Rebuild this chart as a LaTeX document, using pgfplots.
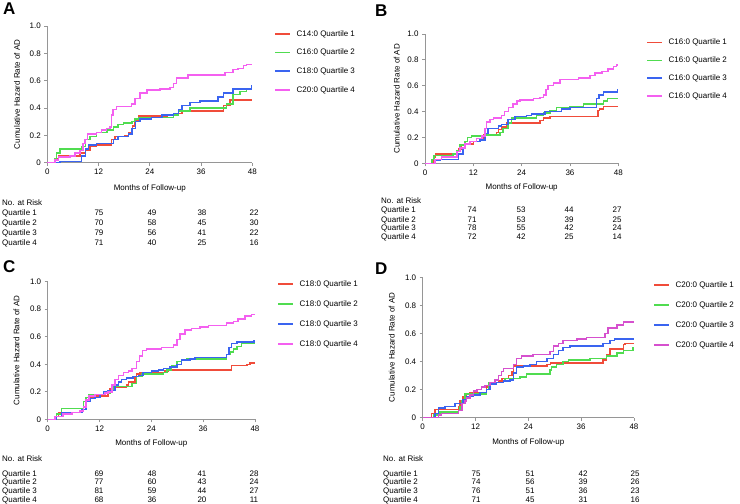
\documentclass[border=0pt]{standalone}
\usepackage{pgfplots}
\pgfplotsset{compat=1.18}
\usepackage{fontspec}
\setmainfont{Liberation Sans}
\definecolor{kmred}{RGB}{240,76,58}
\definecolor{kmgreen}{RGB}{80,220,80}
\definecolor{kmblue}{RGB}{58,100,240}
\definecolor{kmmag}{RGB}{244,96,240}
\definecolor{kmpurp}{RGB}{214,80,206}
\definecolor{axisgray}{RGB}{150,150,150}
\pgfplotsset{
 km/.style={
  scale only axis, anchor=south west,
  xmin=0,xmax=48,ymin=0,ymax=1,
  axis x line*=bottom, axis y line*=left,
  axis line style={draw=axisgray, line width=0.9pt},
  xtick={0,12,24,36,48}, ytick={0,0.2,0.4,0.6,0.8,1}, yticklabels={0,0.2,0.4,0.6,0.8,1.0},
  tick align=outside, major tick length=3pt,
  tick style={draw=axisgray, line width=0.9pt},
  tick label style={font=\fontsize{8}{9}\selectfont},
  label style={font=\fontsize{8}{9}\selectfont},
  xlabel={Months of Follow-up}, ylabel={Cumulative Hazard Rate of AD},
  /pgf/number format/assume math mode=true,
  clip=false,
  legend cell align=left,
  legend style={draw=none, fill=none, font=\fontsize{8}{9}\selectfont, anchor=north west,
    inner sep=0pt, column sep=5pt, at={(1,1)},
    nodes={inner sep=0.5pt, text height=6pt, text depth=1.5pt}},
  legend image code/.code={\draw[##1] (0pt,0pt) -- (15pt,0pt);},
  every axis plot/.append style={const plot, line width=1.5pt, no marks},
 }
}
\tikzset{rt/.style={font=\fontsize{8}{9}\selectfont, inner sep=0pt, text height=5.8pt, text depth=0pt},
 pl/.style={font=\fontsize{17}{17}\selectfont\bfseries, inner sep=0pt, anchor=north west}}
\begin{document}
\begin{tikzpicture}[x=1pt,y=1pt]
\path[use as bounding box] (0,0) rectangle (740,504);
% ---------------- A ----------------
\node[pl] at (3,501) {A};
\begin{axis}[km, at={(47.3pt,341.3pt)}, width=205pt, height=136.7pt,
  ylabel style={at={(axis description cs:-0.148,0.5)}, anchor=center},
  xlabel style={at={(axis description cs:0.5,0)}, anchor=center, yshift=-25.3pt},
  legend style={xshift=22.2pt, yshift=-3.4pt, row sep=10.2pt}]
\addplot[draw=kmred] coordinates {(0,0) (1.8,0.03) (2.6,0.05) (7.6,0.07) (9,0.09) (10,0.12) (11.5,0.13) (15,0.17) (15.8,0.19) (18.2,0.20) (19,0.22) (20,0.27) (20.5,0.31) (21.3,0.34) (28,0.35) (29.7,0.36) (31.5,0.38) (41.2,0.42) (42.8,0.46) (48,0.46)};
\addplot[draw=kmgreen] coordinates {(0,0) (1.8,0.03) (2.2,0.07) (3,0.10) (8,0.12) (9,0.17) (10,0.19) (11.5,0.22) (14,0.24) (15.5,0.26) (16.6,0.28) (17.8,0.29) (19.8,0.30) (20.5,0.32) (21.3,0.33) (29.5,0.35) (30.7,0.38) (33.4,0.40) (42,0.43) (43.5,0.50) (45.1,0.52) (46.7,0.54) (48,0.54)};
\addplot[draw=kmblue] coordinates {(0,0) (3,0.01) (8,0.05) (9,0.10) (9.6,0.13) (11.5,0.14) (15.5,0.17) (16.6,0.19) (19,0.21) (19.8,0.25) (20.6,0.30) (21.7,0.32) (24.4,0.33) (26.8,0.35) (29.5,0.36) (30.7,0.39) (31.5,0.42) (33.4,0.44) (35.8,0.45) (40,0.48) (41.2,0.51) (43.5,0.54) (47.8,0.56) (48,0.56)};
\addplot[draw=kmmag] coordinates {(0,0) (1.8,0.02) (2.6,0.04) (5.3,0.05) (6.5,0.07) (7.6,0.09) (8.4,0.14) (8.8,0.17) (9.4,0.21) (11.5,0.22) (12.7,0.24) (13.9,0.25) (14.7,0.26) (15,0.35) (15.4,0.39) (16.2,0.41) (19.7,0.43) (20.5,0.47) (21.7,0.51) (23.3,0.53) (26.4,0.54) (28.7,0.55) (29.5,0.58) (30.3,0.62) (33,0.64) (41.6,0.66) (43.5,0.68) (44.7,0.69) (45.9,0.71) (46.7,0.72) (48,0.72)};
\legend{C14:0 Quartile 1, C16:0 Quartile 2, C18:0 Quartile 3, C20:0 Quartile 4}
\end{axis}
\foreach \lab/\y in {No. at Risk/203, Quartile 1/213, Quartile 2/223, Quartile 3/233, Quartile 4/243}
  \node[rt,anchor=west] at (2,504-\y) {\lab};
\foreach \y/\va/\vb/\vc/\vd in {213/75/49/38/22, 223/70/58/45/30, 233/79/56/41/22, 243/71/40/25/16}{
  \node[rt] at (99,504-\y) {\va}; \node[rt] at (152,504-\y) {\vb};
  \node[rt] at (202,504-\y) {\vc}; \node[rt] at (254,504-\y) {\vd};}
% ---------------- B ----------------
\node[pl] at (375,499) {B};
\begin{axis}[km, at={(425pt,340.7pt)}, width=193.3pt, height=129.3pt,
  ylabel style={at={(axis description cs:-0.146,0.5)}, anchor=center},
  xlabel style={at={(axis description cs:0.5,0)}, anchor=center, yshift=-23.7pt},
  legend style={xshift=28.2pt, yshift=-4.1pt, row sep=9.3pt}]
\addplot[draw=kmred] coordinates {(0,0) (2.1,0.05) (2.6,0.07) (7.9,0.09) (8.5,0.11) (9.1,0.14) (9.9,0.15) (12,0.17) (13.7,0.18) (14.5,0.22) (17.8,0.24) (18.2,0.26) (19,0.28) (20.3,0.31) (28.6,0.33) (29.4,0.35) (31,0.36) (43,0.41) (43.3,0.42) (44.3,0.44) (48,0.44)};
\addplot[draw=kmgreen] coordinates {(0,0) (1.7,0.03) (2.2,0.06) (7,0.07) (7.9,0.10) (8.7,0.14) (9.9,0.17) (10.6,0.20) (11.6,0.21) (14.9,0.22) (18.6,0.24) (19.4,0.27) (20.6,0.31) (21.5,0.35) (27.7,0.37) (29.4,0.39) (31,0.41) (32.6,0.43) (36,0.44) (39.3,0.46) (44.3,0.48) (45.3,0.50) (48,0.50)};
\addplot[draw=kmblue] coordinates {(0,0) (2.5,0.02) (3.7,0.03) (8.3,0.07) (9.4,0.12) (9.9,0.15) (11.2,0.17) (13.7,0.18) (14.9,0.23) (15.7,0.27) (18.2,0.29) (19,0.30) (20.6,0.34) (22.4,0.36) (25.2,0.37) (26.5,0.38) (29.8,0.40) (33.9,0.42) (36,0.43) (42.6,0.50) (43.2,0.53) (44.3,0.55) (47.8,0.57) (48,0.57)};
\addplot[draw=kmmag] coordinates {(0,0) (2.5,0.03) (4.1,0.05) (7.9,0.09) (8.7,0.12) (9.9,0.15) (11.2,0.17) (12.8,0.19) (14.1,0.21) (14.9,0.27) (15.3,0.32) (16.1,0.34) (17,0.35) (19,0.37) (19.8,0.40) (20.7,0.43) (21.9,0.46) (22.8,0.48) (23.6,0.49) (26.9,0.50) (28.6,0.51) (29.4,0.53) (30.1,0.57) (30.6,0.60) (31.9,0.62) (33.5,0.65) (38.1,0.66) (41,0.68) (42.2,0.70) (43.9,0.71) (45.5,0.73) (46.8,0.75) (47.6,0.76) (48,0.76)};
\legend{C16:0 Quartile 1, C16:0 Quartile 2, C16:0 Quartile 3, C16:0 Quartile 4}
\end{axis}
\foreach \lab/\y in {No. at Risk/200.5, Quartile 1/210, Quartile 2/219.3, Quartile 3/228, Quartile 4/236.7}
  \node[rt,anchor=west] at (381,504-\y) {\lab};
\foreach \y/\va/\vb/\vc/\vd in {210/74/53/44/27, 219.3/71/53/39/25, 228/78/55/42/24, 236.7/72/42/25/14}{
  \node[rt] at (472,504-\y) {\va}; \node[rt] at (521,504-\y) {\vb};
  \node[rt] at (569,504-\y) {\vc}; \node[rt] at (617,504-\y) {\vd};}
% ---------------- C ----------------
\node[pl] at (3,244) {C};
\begin{axis}[km, at={(47.7pt,84.7pt)}, width=207.3pt, height=137.6pt,
  ylabel style={at={(axis description cs:-0.15,0.5)}, anchor=center},
  xlabel style={at={(axis description cs:0.5,0)}, anchor=center, yshift=-23.7pt},
  legend style={xshift=22.5pt, yshift=2.3pt, row sep=11.5pt}]
\addplot[draw=kmred] coordinates {(0,0) (1.7,0.02) (2.5,0.05) (7.9,0.06) (8.3,0.09) (8.9,0.14) (9.4,0.16) (10.6,0.17) (14,0.19) (14.4,0.22) (15,0.23) (18.3,0.25) (18.7,0.27) (20.2,0.31) (20.6,0.33) (21.4,0.34) (27.2,0.35) (27.9,0.36) (42.6,0.39) (46.1,0.40) (46.9,0.41) (48,0.41)};
\addplot[draw=kmgreen] coordinates {(0,0) (2,0.04) (3.2,0.08) (8.3,0.13) (8.9,0.16) (9.4,0.18) (13.3,0.19) (14.4,0.21) (15.2,0.24) (19.5,0.26) (20.6,0.31) (21.8,0.33) (26.8,0.34) (27.6,0.36) (28.7,0.39) (29.9,0.42) (31,0.43) (32.2,0.44) (41.4,0.47) (42.2,0.49) (43,0.51) (43.8,0.53) (44.9,0.55) (48,0.55)};
\addplot[draw=kmblue] coordinates {(0,0) (2,0.02) (3.2,0.05) (7.9,0.07) (8.9,0.13) (9.8,0.15) (11,0.16) (12.1,0.18) (12.9,0.20) (14,0.21) (15.6,0.25) (16.4,0.27) (17.1,0.29) (18.3,0.30) (19.8,0.31) (21,0.32) (22.1,0.34) (24,0.35) (25.6,0.36) (26.8,0.37) (28.3,0.38) (29.9,0.40) (31,0.43) (33,0.44) (34.1,0.45) (41.4,0.47) (42,0.52) (42.6,0.55) (43.8,0.56) (47.8,0.57) (48,0.57)};
\addplot[draw=kmmag] coordinates {(0,0) (1.7,0.02) (3.6,0.04) (5.6,0.05) (7.5,0.06) (8.3,0.09) (8.9,0.14) (9.6,0.17) (11,0.18) (13.3,0.19) (14,0.20) (14.9,0.25) (15.6,0.29) (16.4,0.32) (17.5,0.34) (18.7,0.35) (19.5,0.37) (20.6,0.42) (21.2,0.46) (22,0.50) (22.9,0.51) (26.4,0.52) (29.1,0.54) (29.9,0.58) (30.6,0.62) (31.8,0.65) (33.3,0.66) (35.3,0.67) (37.2,0.68) (41.4,0.70) (43,0.71) (44.1,0.73) (45.7,0.75) (47.2,0.76) (48,0.76)};
\legend{C18:0 Quartile 1, C18:0 Quartile 2, C18:0 Quartile 3, C18:0 Quartile 4}
\end{axis}
\foreach \lab/\y in {No. at Risk/459, Quartile 1/473.3, Quartile 2/482, Quartile 3/490.7, Quartile 4/500}
  \node[rt,anchor=west] at (2,504-\y) {\lab};
\foreach \y/\va/\vb/\vc/\vd in {473.3/69/48/41/28, 482/77/60/43/24, 490.7/81/59/44/27, 500/68/36/20/11}{
  \node[rt] at (99,504-\y) {\va}; \node[rt] at (152,504-\y) {\vb};
  \node[rt] at (202,504-\y) {\vc}; \node[rt] at (254,504-\y) {\vd};}
% ---------------- D ----------------
\node[pl] at (375,241) {D};
\begin{axis}[km, at={(422.7pt,86.3pt)}, width=211.3pt, height=140.4pt,
  ylabel style={at={(axis description cs:-0.147,0.5)}, anchor=center},
  xlabel style={at={(axis description cs:0.5,0)}, anchor=center, yshift=-25pt},
  legend style={xshift=19.5pt, yshift=-3.1pt, row sep=11.5pt}]
\addplot[draw=kmred] coordinates {(0,0) (2,0.03) (2.8,0.06) (8.1,0.08) (8.5,0.12) (9.2,0.15) (10,0.17) (10.7,0.18) (14.5,0.22) (14.9,0.25) (17.2,0.26) (18,0.28) (19.5,0.30) (20.3,0.33) (20.6,0.37) (28.2,0.38) (29,0.39) (41,0.41) (41.8,0.45) (42.5,0.49) (45.6,0.52) (46,0.53) (48,0.53)};
\addplot[draw=kmgreen] coordinates {(0,0) (2.4,0.02) (3.9,0.04) (8.1,0.05) (8.5,0.08) (8.9,0.12) (9.6,0.17) (14.5,0.20) (14.9,0.25) (18.3,0.26) (18.7,0.28) (22.1,0.29) (23.6,0.31) (28.9,0.34) (29.3,0.36) (30.4,0.38) (31.9,0.40) (33.1,0.41) (38,0.42) (41.8,0.44) (44.1,0.46) (45.6,0.48) (47.8,0.50) (48,0.50)};
\addplot[draw=kmblue] coordinates {(0,0) (2.8,0.03) (3.6,0.07) (5.1,0.08) (7.3,0.10) (9.2,0.13) (10,0.15) (11.5,0.16) (13,0.18) (14.5,0.20) (15.3,0.24) (16.8,0.25) (18.3,0.26) (19.8,0.27) (20.6,0.32) (21.3,0.36) (22.9,0.37) (24.4,0.38) (25.9,0.40) (28.2,0.42) (29.7,0.45) (30.8,0.48) (31.9,0.50) (33.5,0.51) (41,0.53) (42.5,0.55) (43.6,0.56) (48,0.56)};
\addplot[draw=kmpurp] coordinates {(0,0) (3.6,0.02) (4.3,0.03) (8.1,0.05) (8.9,0.10) (9.6,0.12) (10,0.14) (10.7,0.16) (11.5,0.19) (12.3,0.20) (13.4,0.22) (14.2,0.23) (15.3,0.25) (16.4,0.27) (17.2,0.30) (17.9,0.33) (18.3,0.35) (20.6,0.38) (21.3,0.42) (22.5,0.44) (25.1,0.45) (28.9,0.47) (29.7,0.51) (30.8,0.53) (31.9,0.55) (35,0.56) (37.2,0.57) (41.4,0.60) (42.1,0.64) (44.1,0.66) (45.6,0.68) (48,0.68)};
\legend{C20:0 Quartile 1, C20:0 Quartile 2, C20:0 Quartile 3, C20:0 Quartile 4}
\end{axis}
\foreach \lab/\y in {No. at Risk/459, Quartile 1/473.3, Quartile 2/482, Quartile 3/490.7, Quartile 4/500}
  \node[rt,anchor=west] at (383,504-\y) {\lab};
\foreach \y/\va/\vb/\vc/\vd in {473.3/75/51/42/25, 482/74/56/39/26, 490.7/76/51/36/23, 500/71/45/31/16}{
  \node[rt] at (476,504-\y) {\va}; \node[rt] at (530,504-\y) {\vb};
  \node[rt] at (583,504-\y) {\vc}; \node[rt] at (635,504-\y) {\vd};}
\end{tikzpicture}
\end{document}
